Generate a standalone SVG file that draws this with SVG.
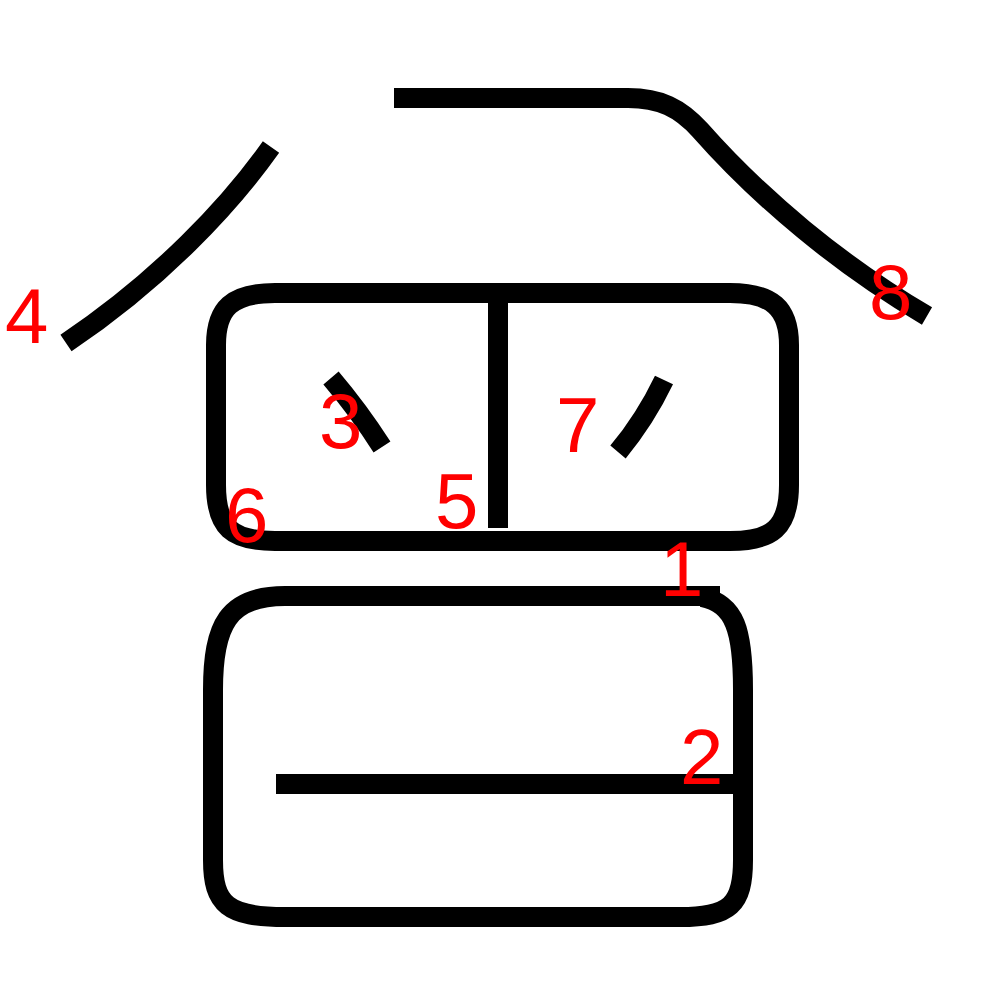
<svg xmlns="http://www.w3.org/2000/svg" width="1000" height="1000" viewBox="0 0 1000 1000">
<style>
.s{fill:none;stroke:#000;stroke-width:20;stroke-linecap:butt;stroke-linejoin:round}
.n{fill:#ff0000;font-family:"Liberation Sans",Arial,Helvetica,sans-serif;font-size:78px}
</style>
<rect width="1000" height="1000" fill="#fff"/>
<g id="strokes">
<path id="s1" class="s" d="M720,596 H285 C228,596 213,625 213,690 V860 C213,905 228,917 285,917 H680 C730,917 743,905 743,860 V690 C743,630 735,604 702,597"/>
<path id="s2" class="s" d="M276,784 H742"/>
<path id="s3" class="s" d="M331,378 C348,398 366,422 382,447"/>
<path id="s4" class="s" d="M271,147 C230,205 160,280 66,343"/>
<path id="s5" class="s" d="M498,300 V528"/>
<path id="s6" class="s" d="M275,293 H730 C772,293 789,308 789,345 V485 C789,528 772,541 730,541 H275 C232,541 216,528 216,485 V345 C216,308 232,293 275,293 Z"/>
<path id="s7" class="s" d="M664,380 C652,405 638,428 618,452"/>
<path id="s8" class="s" d="M394,98 H628 C660,98 680,108 700,130 C760,198 840,265 927,316"/>
</g>
<g id="labels">
<text class="n" x="660" y="596">1</text>
<text class="n" x="680" y="784">2</text>
<text class="n" x="319" y="448">3</text>
<text class="n" x="5" y="343">4</text>
<text class="n" x="435" y="528">5</text>
<text class="n" x="225" y="542">6</text>
<text class="n" x="556" y="452">7</text>
<text class="n" x="869" y="319">8</text>
</g>
</svg>
